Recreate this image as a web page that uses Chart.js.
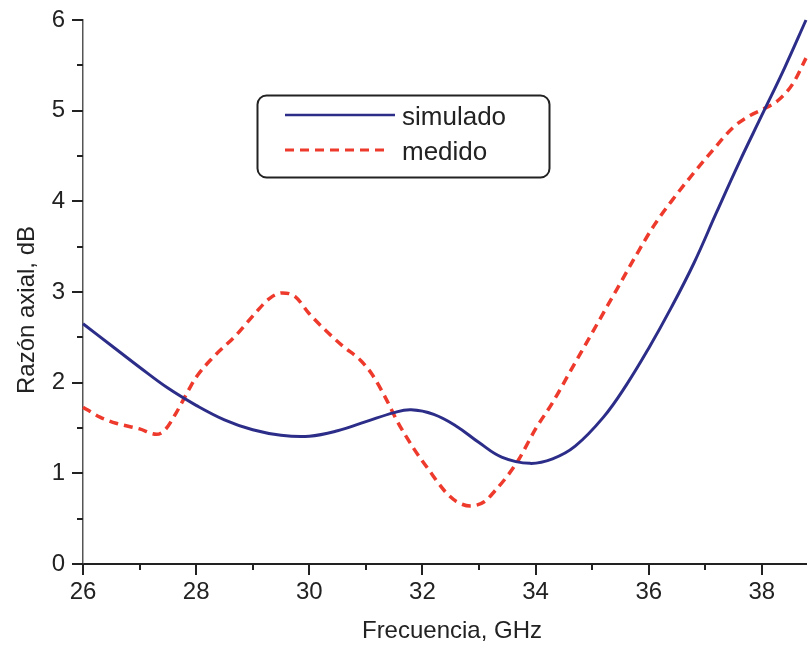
<!DOCTYPE html>
<html>
<head>
<meta charset="utf-8">
<script src="https://cdn.jsdelivr.net/npm/chart.js@4.4.1/dist/chart.umd.min.js"></script>
<style>
  html, body { margin: 0; padding: 0; background: #fff; }
  #wrap { width: 809px; height: 647px; }
</style>
</head>
<body>
<div id="wrap"><canvas id="chart" width="809" height="647"></canvas></div>
<script>
// frequency (GHz) / axial ratio (dB)
const simFreq = [26.0, 26.5, 27.0, 27.5, 28.0, 28.5, 29.0, 29.5, 30.0, 30.5, 31.0, 31.5, 31.8, 32.2, 32.6, 33.0, 33.4, 33.9, 34.3, 34.7, 35.2, 35.6, 36.0, 36.4, 36.8, 37.2, 37.6, 38.0, 38.4, 38.78];
const simValues = [2.65, 2.41, 2.17, 1.94, 1.75, 1.59, 1.48, 1.42, 1.41, 1.47, 1.57, 1.67, 1.70, 1.65, 1.52, 1.34, 1.18, 1.11, 1.16, 1.30, 1.62, 1.97, 2.38, 2.83, 3.32, 3.88, 4.43, 4.95, 5.47, 6.0];

const medFreq = [26.0, 26.3, 26.6, 27.0, 27.3, 27.45, 27.65, 27.85, 28.0, 28.3, 28.7, 29.05, 29.3, 29.52, 29.75, 30.0, 30.3, 30.6, 30.9, 31.1, 31.35, 31.55, 31.85, 32.1, 32.4, 32.6, 32.85, 33.1, 33.3, 33.5, 33.7, 34.0, 34.3, 34.6, 34.9, 35.2, 35.5, 35.8, 36.1, 36.4, 36.7, 37.1, 37.5, 37.8, 38.0, 38.3, 38.55, 38.78];
const medValues = [1.73, 1.62, 1.55, 1.49, 1.43, 1.48, 1.67, 1.90, 2.06, 2.28, 2.52, 2.77, 2.93, 2.99, 2.95, 2.76, 2.57, 2.40, 2.25, 2.10, 1.83, 1.58, 1.27, 1.05, 0.80, 0.69, 0.64, 0.69, 0.82, 0.97, 1.15, 1.49, 1.78, 2.11, 2.44, 2.77, 3.10, 3.43, 3.74, 4.00, 4.24, 4.54, 4.82, 4.95, 5.01, 5.12, 5.30, 5.58];

const seriesLabels = ['simulado', 'medido'];
const xTitle = 'Frecuencia, GHz';
const yTitle = 'Razón axial, dB';

const FONT = 'Arial, "Liberation Sans", Helvetica, sans-serif';

// major/minor outward tick marks, axis titles and boxed legend
const decorPlugin = {
  id: 'decor',
  afterDraw(chart) {
    const ctx = chart.ctx;
    const { x, y } = chart.scales;
    const area = chart.chartArea;
    ctx.save();
    ctx.strokeStyle = '#222';
    ctx.lineWidth = 2;
    for (let v = 26; v <= 38.8; v += 1) {
      const px = Math.round(x.getPixelForValue(v));
      const len = v % 2 === 0 ? 11 : 6;
      ctx.beginPath();
      ctx.moveTo(px, area.bottom);
      ctx.lineTo(px, area.bottom + len);
      ctx.stroke();
    }
    for (let v = 0; v <= 6; v += 0.5) {
      const py = Math.round(y.getPixelForValue(v));
      const len = Number.isInteger(v) ? 11 : 6;
      ctx.beginPath();
      ctx.moveTo(area.left, py);
      ctx.lineTo(area.left - len, py);
      ctx.stroke();
    }

    // axis titles
    ctx.fillStyle = '#222';
    ctx.font = '24px ' + FONT;
    ctx.textAlign = 'center';
    ctx.textBaseline = 'middle';
    ctx.fillText(xTitle, 452, 631);
    ctx.translate(27, 310);
    ctx.rotate(-Math.PI / 2);
    ctx.fillText(yTitle, 0, 0);
    ctx.restore();

    // legend
    ctx.save();
    ctx.lineWidth = 2;
    ctx.strokeStyle = '#222';
    ctx.fillStyle = '#fff';
    ctx.beginPath();
    ctx.roundRect(257.5, 95.5, 292, 82, 9);
    ctx.fill();
    ctx.stroke();
    const rows = [115, 150];
    chart.data.datasets.forEach((ds, i) => {
      ctx.strokeStyle = ds.borderColor;
      ctx.lineWidth = i === 0 ? 2.5 : 3;
      ctx.setLineDash(ds.borderDash || []);
      ctx.beginPath();
      ctx.moveTo(285, rows[i]);
      ctx.lineTo(i === 0 ? 395 : 390, rows[i]);
      ctx.stroke();
      ctx.setLineDash([]);
      ctx.fillStyle = '#222';
      ctx.font = '26px ' + FONT;
      ctx.textAlign = 'left';
      ctx.textBaseline = 'alphabetic';
      ctx.fillText(ds.label, 402, rows[i] + 10);
    });
    ctx.restore();
  }
};

new Chart(document.getElementById('chart'), {
  type: 'line',
  data: {
    datasets: [
      {
        label: seriesLabels[0],
        data: simFreq.map((f, i) => ({ x: f, y: simValues[i] })),
        borderColor: '#2c2d88',
        borderWidth: 3,
        pointRadius: 0,
        tension: 0.4,
        fill: false
      },
      {
        label: seriesLabels[1],
        data: medFreq.map((f, i) => ({ x: f, y: medValues[i] })),
        borderColor: '#ee3a2c',
        borderWidth: 3.5,
        borderDash: [9, 6],
        pointRadius: 0,
        cubicInterpolationMode: 'monotone',
        fill: false
      }
    ]
  },
  options: {
    responsive: false,
    animation: false,
    clip: 4,
    layout: { padding: { top: 20, right: 3, left: 0, bottom: 0 } },
    plugins: { legend: { display: false }, tooltip: { enabled: false } },
    scales: {
      x: {
        type: 'linear',
        min: 26,
        max: 38.78,
        afterFit: s => { s.height = 83; },
        grid: { display: true, drawOnChartArea: false, drawTicks: false },
        border: { display: true, color: '#222', width: 2 },
        ticks: {
          stepSize: 2,
          includeBounds: false,
          padding: 14,
          color: '#222',
          font: { family: FONT, size: 24 }
        }
      },
      y: {
        min: 0,
        max: 6,
        afterFit: s => { s.width = 83; s.paddingTop = 0; s.paddingBottom = 0; },
        grid: { display: true, drawOnChartArea: false, drawTicks: false },
        border: { display: true, color: '#555', width: 1.5 },
        ticks: {
          stepSize: 1,
          padding: 18,
          color: '#222',
          font: { family: FONT, size: 24 }
        }
      }
    }
  },
  plugins: [decorPlugin]
});
</script>
</body>
</html>
